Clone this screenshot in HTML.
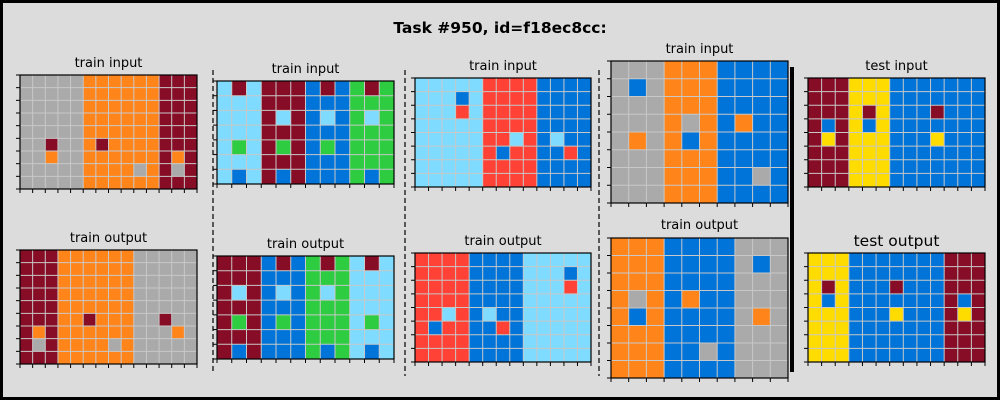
<!DOCTYPE html>
<html><head><meta charset="utf-8"><style>
html,body{margin:0;padding:0;background:#dcdcdc;}
#fig{width:1000px;height:400px;position:relative;background:#dcdcdc;overflow:hidden;}
svg{position:absolute;left:0;top:0;}
text{font-family:"DejaVu Sans","Liberation Sans",sans-serif;}
</style></head><body>
<div id="fig">
<svg id="chart" width="1000" height="400" viewBox="0 0 1000 400">
<rect x="1.5" y="1.5" width="997" height="397" fill="#dcdcdc" stroke="#000" stroke-width="3"/>
<text x="500" y="33" text-anchor="middle" font-size="15.5" font-weight="bold" fill="#000">Task #950, id=f18ec8cc:</text>
<line x1="213" y1="70" x2="213" y2="372" stroke="#000" stroke-width="1.2" stroke-dasharray="5,3"/>
<line x1="405" y1="70" x2="405" y2="376" stroke="#000" stroke-width="1.2" stroke-dasharray="5,3"/>
<line x1="599" y1="70" x2="599" y2="376" stroke="#000" stroke-width="1.2" stroke-dasharray="5,3"/>
<line x1="792" y1="67" x2="792" y2="372" stroke="#000" stroke-width="4"/>
</svg>
</div>
<script>
const palette = ["#000000","#0074D9","#FF4136","#2ECC40","#FFDC00","#AAAAAA","#F012BE","#FF851B","#7FDBFF","#870C25"];
const grid1In = ["55555777777999","55555777777999","55555777777999","55555777777999","55555777777999","55955797777999","55755777777979","55555777757959","55555777777999"];
const grid1Out = ["99977777755555","99977777755555","99977777755555","99977777755555","99977777755555","99977977755955","97977777755575","95977775755555","99977777755555"];
const grid2In = ["898999191393","888999111333","888989181383","888999111333","838939131333","888999111333","818919111313"];
const grid2Out = ["999191393898","999111333888","989181383888","999111333888","939131333838","999111333888","919111313818"];
const grid3In = ["8888822221111","8881822221111","8882822221111","8888822221111","8888822821811","8888821221121","8888822221111","8888822221111"];
const grid3Out = ["2222111188888","2222111188818","2222111188828","2222111188888","2282181188888","2122112188888","2222111188888","2222111188888"];
const grid4In = ["5557771111","5157771111","5557771111","5557571711","5757171111","5557771111","5557771151","5557771111"];
const grid4Out = ["7771111555","7771111515","7771111555","7571711555","7171111575","7771111555","7771151555","7771111555"];
const grid5In = ["9994441111111","9994441111111","9994941119111","9194141111111","9494441114111","9994441111111","9994441111111","9994441111111"];
const grid5Out = ["4441111111999","4441111111999","4941119111999","4141111111919","4441114111949","4441111111999","4441111111999","4441111111999"];
const titles = ["train input","train output","train input","train output","train input","train output","train input","train output","test input","test output"];

const panels = [
 {g:grid1In,x:20,y:75,w:177,h:114,ty:67,fs:13},
 {g:grid1Out,x:20,y:250,w:177,h:114,ty:242,fs:13},
 {g:grid2In,x:217,y:81,w:177,h:103,ty:73,fs:13},
 {g:grid2Out,x:217,y:256,w:177,h:103,ty:248,fs:13},
 {g:grid3In,x:415,y:78,w:176,h:109,ty:70,fs:13},
 {g:grid3Out,x:415,y:253,w:176,h:109,ty:245,fs:13},
 {g:grid4In,x:611,y:61,w:177,h:142,ty:53,fs:13},
 {g:grid4Out,x:611,y:238,w:177,h:140,ty:229,fs:13},
 {g:grid5In,x:808,y:78,w:177,h:109,ty:70,fs:13},
 {g:grid5Out,x:808,y:253,w:177,h:109,ty:246,fs:15.5}
];
const NS="http://www.w3.org/2000/svg";
const svg=document.getElementById('chart');
function mk(tag,attrs){const e=document.createElementNS(NS,tag);for(const k in attrs)e.setAttribute(k,attrs[k]);return e;}
panels.forEach((p,i)=>{
  const grp=mk('g',{});
  
  
  const rows=p.g.length, cols=p.g[0].length;
  const cw=p.w/cols, ch=p.h/rows;
  const xs=c=>p.x+c*cw, ys=r=>p.y+r*ch;
  for(let r=0;r<rows;r++)for(let c=0;c<cols;c++){
    const rc=mk('rect',{x:xs(c),y:ys(r),width:cw+0.3,height:ch+0.3,fill:palette[+p.g[r][c]]});
    
    
    grp.appendChild(rc);
  }
  for(let c=1;c<cols;c++){const l=mk('line',{x1:xs(c),y1:p.y,x2:xs(c),y2:p.y+p.h,stroke:'#c8c8c8','stroke-width':1});grp.appendChild(l);}
  for(let r=1;r<rows;r++){const l=mk('line',{x1:p.x,y1:ys(r),x2:p.x+p.w,y2:ys(r),stroke:'#c8c8c8','stroke-width':1});grp.appendChild(l);}
  for(let c=0;c<=cols;c++){const l=mk('line',{x1:xs(c),y1:p.y+p.h,x2:xs(c),y2:p.y+p.h+4,stroke:'#000','stroke-width':1});grp.appendChild(l);}
  for(let r=0;r<=rows;r++){const l=mk('line',{x1:p.x-4,y1:ys(r),x2:p.x,y2:ys(r),stroke:'#000','stroke-width':1});grp.appendChild(l);}
  const fr=mk('rect',{x:p.x,y:p.y,width:p.w,height:p.h,fill:'none',stroke:'#000','stroke-width':1.2});
  
  
  grp.appendChild(fr);
  const t=mk('text',{x:p.x+p.w/2,y:p.ty,'text-anchor':'middle','font-size':p.fs,fill:'#000'});
  t.textContent=titles[i];
  
  
  grp.appendChild(t);
  svg.appendChild(grp);
});
</script>
</body></html>
